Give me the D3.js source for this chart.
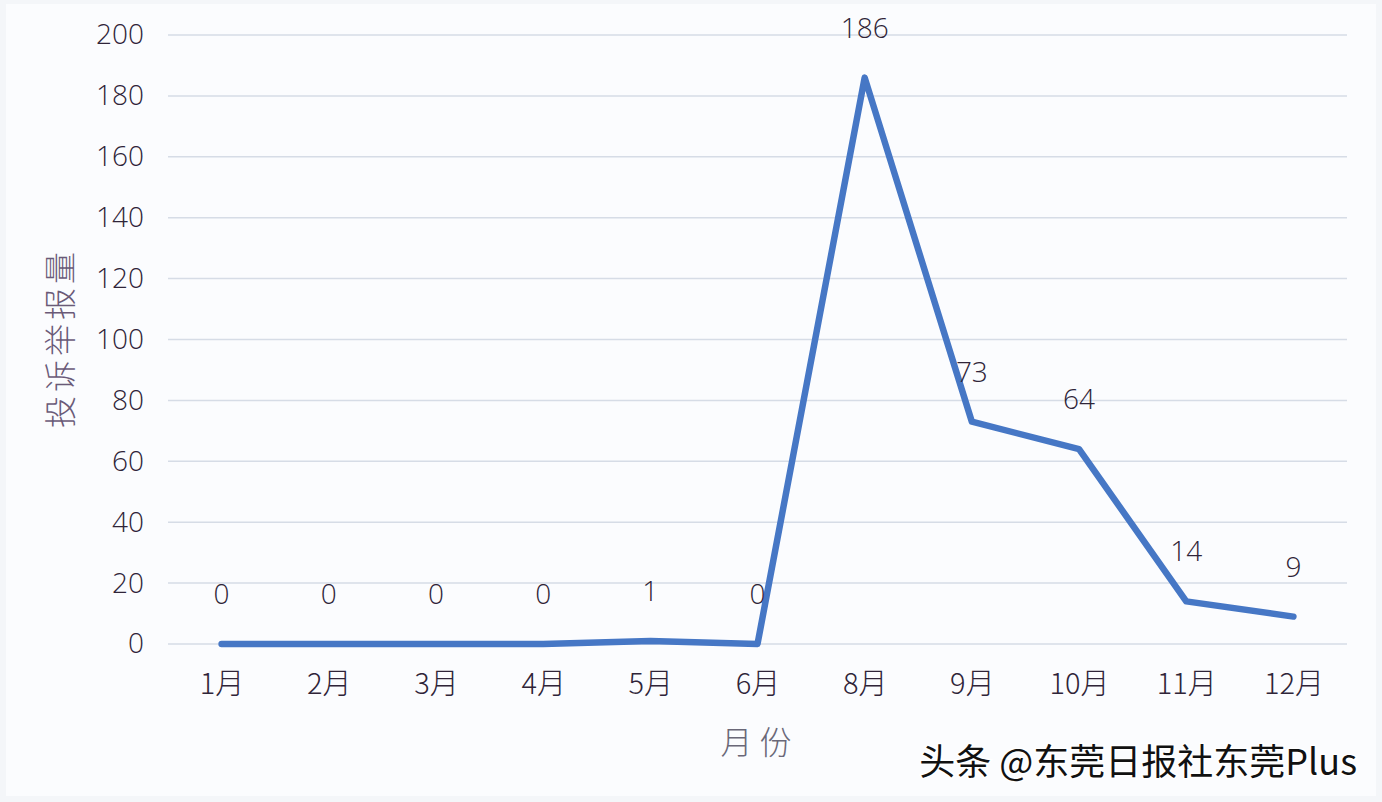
<!DOCTYPE html>
<html>
<head>
<meta charset="utf-8">
<script src="https://cdn.jsdelivr.net/npm/d3@7"></script>
<style>
html,body{margin:0;padding:0;background:#fff;}
svg{display:block;}
</style>
</head>
<body>
<svg id="chart" width="1382" height="802"></svg>
<script>
const months = ["1月","2月","3月","4月","5月","6月","8月","9月","10月","11月","12月"];
const counts = [0,0,0,0,1,0,186,73,64,14,9];
const yTicks = [0,20,40,60,80,100,120,140,160,180,200];
const yTitle = "投诉举报量";
const xTitle = "月 份";
const watermark = "头条 @东莞日报社东莞Plus";

(function(){
const svg = d3.select("#chart");
const W = 1382, H = 802;
const pLeft = 168, pRight = 1347, pTop = 35, pBottom = 644;
const numFont = "'Open Sans', 'Noto Sans', sans-serif";
const cjkFont = "'Noto Sans CJK SC', 'Noto Sans', sans-serif";
const txt = "#2f2438";

svg.append("rect").attr("x",0).attr("y",0).attr("width",W).attr("height",H).attr("fill","#f4f6f9");
svg.append("rect").attr("x",6).attr("y",4).attr("width",W-12).attr("height",H-10).attr("fill","#fbfcfe");

const x = d3.scalePoint().domain(months).range([pLeft, pRight]).padding(0.5);
const y = d3.scaleLinear().domain([0,200]).range([pBottom, pTop]);

// grid
svg.append("g").selectAll("line").data(yTicks).join("line")
  .attr("x1", pLeft).attr("x2", pRight)
  .attr("y1", d => y(d)).attr("y2", d => y(d))
  .attr("stroke", "#d6dce6").attr("stroke-width", 1.5);

// y axis labels
const yAxis = svg.append("g").attr("transform", `translate(${pLeft},0)`)
  .call(d3.axisLeft(y).tickValues(yTicks).tickSize(0).tickPadding(24));
yAxis.select(".domain").remove();
yAxis.selectAll("text").attr("font-family", numFont).attr("font-size", 28)
  .attr("font-weight", 300).attr("fill", txt);

// x axis labels
const xAxis = svg.append("g").attr("transform", `translate(0,${pBottom})`)
  .call(d3.axisBottom(x).tickSize(0).tickPadding(29));
xAxis.select(".domain").remove();
xAxis.selectAll("text").attr("font-family", cjkFont).attr("font-size", 29)
  .attr("font-weight", 300).attr("fill", txt);

// line
const line = d3.line().x((d,i) => x(months[i])).y(d => y(d));
svg.append("path").datum(counts)
  .attr("d", line).attr("fill","none")
  .attr("stroke","#4677c5").attr("stroke-width",6.5)
  .attr("stroke-linejoin","round").attr("stroke-linecap","round");

// data labels
svg.append("g").selectAll("text").data(counts).join("text")
  .attr("x", (d,i) => x(months[i]))
  .attr("y", d => y(d) - 40)
  .attr("text-anchor","middle")
  .attr("font-family", numFont).attr("font-size", 28)
  .attr("font-weight", 300).attr("fill", txt)
  .text(d => d);

// y title
svg.append("text")
  .attr("transform", `translate(72,338) rotate(-90)`)
  .attr("text-anchor","middle")
  .attr("font-family", cjkFont).attr("font-size", 32)
  .attr("font-weight", 300)
  .attr("letter-spacing", 4)
  .attr("fill", "#6a5a78")
  .text(yTitle);

// x title
svg.append("text")
  .attr("x", 756).attr("y", 754)
  .attr("text-anchor","middle")
  .attr("font-family", cjkFont).attr("font-size", 32)
  .attr("font-weight", 300)
  .attr("fill", "#6a6878")
  .text(xTitle);

// watermark
svg.append("text")
  .attr("x", 1357).attr("y", 775)
  .attr("text-anchor","end")
  .attr("font-family", cjkFont).attr("font-size", 36)
  .attr("fill", "#111")
  .attr("stroke", "#ffffff").attr("stroke-width", 3).attr("paint-order","stroke")
  .text(watermark);
})();
</script>
</body>
</html>
